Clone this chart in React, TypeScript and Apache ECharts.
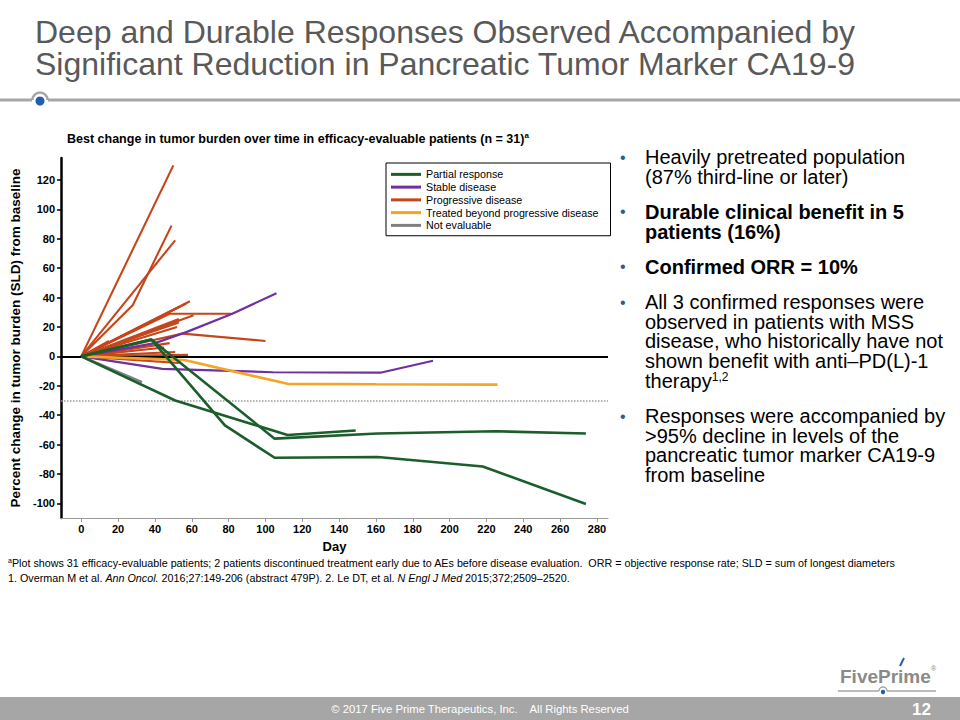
import React, { useEffect, useRef } from "react";
import * as echarts from "echarts";

// ---------- DATA ----------
const categories = [
  "Partial response",
  "Stable disease",
  "Progressive disease",
  "Treated beyond progressive disease",
  "Not evaluable",
];

const xTicks = [0, 20, 40, 60, 80, 100, 120, 140, 160, 180, 200, 220, 240, 260, 280];
const yTicks = [-100, -80, -60, -40, -20, 0, 20, 40, 60, 80, 100, 120];

// [day, % change] per patient
const partialResponse = [
  [[0, 0], [51, -30], [112, -53.5], [149, -50.5]],
  [[0, 0], [38, 11.5], [105, -56], [161, -52.5], [225, -51], [274, -52.5]],
  [[0, 0], [38, 11.5], [78, -47], [105, -69], [161, -68.5], [218, -75], [274, -100.5]],
];

const stableDisease = [
  [[0, 0], [40, 9], [57, 16.5], [82, 29], [106, 43]],
  [[0, 0], [44, -8.5], [104, -10.8], [163, -11], [191, -3]],
];

const progressiveDisease = [
  [[0, 0], [50, 130]],
  [[0, 0], [28, 35], [49, 89]],
  [[0, 0], [51, 79]],
  [[0, 0], [59, 37.5]],
  [[0, 0], [57, 36]],
  [[0, 0], [53, 33.5]],
  [[0, 0], [48, 29], [82, 29]],
  [[0, 0], [61, 28]],
  [[0, 0], [53, 25.5]],
  [[0, 0], [53, 23]],
  [[0, 0], [52, 20]],
  [[0, 0], [55, 15.5], [100, 10.5]],
  [[0, 0], [15, 10.5]],
  [[0, 0], [48, 9]],
  [[0, 0], [45, 6]],
  [[0, 0], [51, 3]],
  [[0, 0], [58, 1]],
  [[0, 0], [53, -4.5]],
];

const treatedBeyondPD = [
  [[0, 0], [56, -2.5], [112, -18.7], [160, -19], [226, -19.2]],
];

const notEvaluable = [
  [[0, 0], [33, -17.5]],
];

const referenceLines = [0, -30];

const titleLines = [
  "Deep and Durable Responses Observed Accompanied by",
  "Significant Reduction in Pancreatic Tumor Marker CA19-9",
];

const bulletParagraphs = [
  { bold: false, lines: ["Heavily pretreated population", "(87% third-line or later)"] },
  { bold: true, lines: ["Durable clinical benefit in 5", "patients (16%)"] },
  { bold: true, lines: ["Confirmed ORR = 10%"] },
  {
    bold: false,
    lines: [
      "All 3 confirmed responses were",
      "observed in patients with MSS",
      "disease, who historically have not",
      "shown benefit with anti\u2013PD(L)-1",
      "therapy{s|1,2}",
    ],
  },
  {
    bold: false,
    lines: [
      "Responses were accompanied by",
      ">95% decline in levels of the",
      "pancreatic tumor marker CA19-9",
      "from baseline",
    ],
  },
];

// ---------- STYLES ----------
const FONT = "'Liberation Sans', Arial, Helvetica, sans-serif";
const seriesStyle: Record<string, { color: string; width: number; z: number }> = {
  "Partial response": { color: "#1B5E2C", width: 2.6, z: 6 },
  "Stable disease": { color: "#7030A0", width: 2.2, z: 4 },
  "Progressive disease": { color: "#C4461A", width: 2.1, z: 3 },
  "Treated beyond progressive disease": { color: "#F5A425", width: 2.6, z: 5 },
  "Not evaluable": { color: "#7F7F7F", width: 2.6, z: 5 },
};

export default function App() {
  const ref = useRef<HTMLDivElement>(null);

  useEffect(() => {
    if (!ref.current) return;
    const chart = echarts.init(ref.current, undefined, { renderer: "svg" });

    const groups: [string, number[][][]][] = [
      [categories[2], progressiveDisease],
      [categories[1], stableDisease],
      [categories[3], treatedBeyondPD],
      [categories[4], notEvaluable],
      [categories[0], partialResponse],
    ];

    const series: any[] = [];
    groups.forEach(([name, lines]) => {
      const st = seriesStyle[name];
      lines.forEach((pts) => {
        series.push({
          type: "line",
          name,
          data: pts,
          showSymbol: false,
          symbol: "none",
          silent: true,
          z: st.z,
          lineStyle: { color: st.color, width: st.width },
          itemStyle: { color: st.color },
        });
      });
    });

    series.push({
      type: "line",
      name: "ref",
      data: [],
      silent: true,
      z: 2,
      markLine: {
        symbol: "none",
        silent: true,
        label: { show: false },
        data: [
          { yAxis: referenceLines[0], lineStyle: { color: "#000", width: 2, type: "solid" } },
          { yAxis: referenceLines[1], lineStyle: { color: "#9a9a9a", width: 1.5, type: "dotted" } },
        ],
      },
    });

    const graphics: any[] = [];

    // Slide title (one multi-line text)
    graphics.push({
      type: "text",
      x: 35,
      y: 16,
      style: {
        text: titleLines.join("\n"),
        fontSize: 32,
        lineHeight: 32,
        fontFamily: FONT,
        fill: "#595959",
        verticalAlign: "top",
      },
    });

    // Divider with dot
    graphics.push(
      { type: "line", shape: { x1: 0, y1: 100, x2: 32, y2: 100 }, style: { stroke: "#A6A6A6", lineWidth: 3 } },
      { type: "line", shape: { x1: 48, y1: 100, x2: 960, y2: 100 }, style: { stroke: "#A6A6A6", lineWidth: 3 } },
      {
        type: "arc",
        shape: { cx: 40, cy: 100, r: 7.5, startAngle: Math.PI, endAngle: Math.PI * 2 },
        style: { stroke: "#A6A6A6", lineWidth: 2.5, fill: null },
      },
      { type: "circle", shape: { cx: 40, cy: 101, r: 4.5 }, style: { fill: "#1F5FAD" } }
    );

    // Bullets: one multi-line text per paragraph
    const LH = 19.7;
    let y = 157;
    bulletParagraphs.forEach((p, pi) => {
      if (pi > 0) y += 15.5;
      graphics.push({
        type: "text",
        x: 620,
        y: y,
        style: { text: "\u2022", fontSize: 16, lineHeight: 16, fontFamily: FONT, fill: "#2E5C8A", verticalAlign: "middle" },
      });
      const weight = p.bold ? "bold" : "normal";
      graphics.push({
        type: "text",
        x: 645,
        y: y - LH / 2,
        style: {
          text: p.lines.map((l) => (l.includes("{") ? l.replace(/^([^{]+)/, "{n|$1}") : `{n|${l}}`)).join("\n"),
          verticalAlign: "top",
          rich: {
            n: { fontSize: 20, fontWeight: weight, fontFamily: FONT, fill: "#000", lineHeight: LH },
            s: { fontSize: 12, fontFamily: FONT, fill: "#000", verticalAlign: "top", lineHeight: LH },
          },
        },
      });
      y += LH * p.lines.length;
    });

    // Footnotes
    graphics.push(
      {
        type: "text",
        x: 8,
        y: 563,
        style: {
          text:
            "{s|a}{n|Plot shows 31 efficacy-evaluable patients; 2 patients discontinued treatment early due to AEs before disease evaluation.  ORR = objective response rate; SLD = sum of longest diameters}",
          verticalAlign: "middle",
          rich: {
            n: { fontSize: 10.75, fontFamily: FONT, fill: "#000", lineHeight: 13 },
            s: { fontSize: 7, fontFamily: FONT, fill: "#000", verticalAlign: "top", lineHeight: 13 },
          },
        },
      },
      {
        type: "text",
        x: 8,
        y: 578,
        style: {
          text:
            "{n|1. Overman M et al. }{i|Ann Oncol.}{n| 2016;27:149-206 (abstract 479P). 2. Le DT, et al. }{i|N Engl J Med}{n| 2015;372;2509\u20132520.}",
          verticalAlign: "middle",
          rich: {
            n: { fontSize: 10.75, fontFamily: FONT, fill: "#000", lineHeight: 13 },
            i: { fontSize: 10.75, fontFamily: FONT, fill: "#000", fontStyle: "italic", lineHeight: 13 },
          },
        },
      }
    );

    // Logo
    graphics.push(
      {
        type: "text",
        x: 840,
        y: 676,
        style: {
          text: "FivePrime",
          fontSize: 19,
          fontWeight: "bold",
          fontFamily: FONT,
          fill: "#8A8A8A",
          verticalAlign: "middle",
        },
      },
      {
        type: "text",
        x: 931,
        y: 668,
        style: { text: "\u00AE", fontSize: 7, fontFamily: FONT, fill: "#7F7F7F", verticalAlign: "middle" },
      },
      { type: "line", shape: { x1: 900, y1: 666, x2: 904, y2: 658 }, style: { stroke: "#1F5FAD", lineWidth: 2 } },
      { type: "line", shape: { x1: 838, y1: 691, x2: 879, y2: 691 }, style: { stroke: "#A6A6A6", lineWidth: 1.5 } },
      { type: "line", shape: { x1: 887, y1: 691, x2: 936, y2: 691 }, style: { stroke: "#A6A6A6", lineWidth: 1.5 } },
      {
        type: "arc",
        shape: { cx: 883, cy: 691, r: 4, startAngle: Math.PI, endAngle: Math.PI * 2 },
        style: { stroke: "#A6A6A6", lineWidth: 1.5, fill: null },
      },
      { type: "circle", shape: { cx: 883, cy: 692, r: 2.2 }, style: { fill: "#1F5FAD" } }
    );

    // Footer
    graphics.push(
      { type: "rect", shape: { x: 0, y: 697, width: 960, height: 23 }, style: { fill: "#A6A6A6" } },
      {
        type: "text",
        x: 480,
        y: 709,
        style: {
          text: "\u00A9 2017 Five Prime Therapeutics, Inc.    All Rights Reserved",
          fontSize: 11.3,
          fontFamily: FONT,
          fill: "#fff",
          align: "center",
          verticalAlign: "middle",
        },
      },
      {
        type: "text",
        x: 931,
        y: 709,
        style: {
          text: "12",
          fontSize: 17,
          fontWeight: "bold",
          fontFamily: FONT,
          fill: "#fff",
          align: "right",
          verticalAlign: "middle",
        },
      }
    );

    chart.setOption({
      animation: false,
      backgroundColor: "#fff",
      title: {
        text: "{b|Best change in tumor burden over time in efficacy-evaluable patients (n = 31)}{s|a}",
        left: 67,
        top: 131,
        padding: 0,
        textStyle: {
          rich: {
            b: { fontSize: 12.5, fontWeight: "bold", fontFamily: FONT, color: "#000", lineHeight: 16 },
            s: { fontSize: 8, fontWeight: "bold", fontFamily: FONT, color: "#000", verticalAlign: "top", lineHeight: 16 },
          },
        },
      },
      legend: {
        data: categories,
        orient: "vertical",
        left: 386,
        top: 163,
        icon: "rect",
        itemWidth: 30,
        itemHeight: 3,
        itemGap: 0,
        padding: [5, 12, 4, 5],
        borderColor: "#000",
        borderWidth: 1,
        selectedMode: false,
        textStyle: { fontSize: 10.7, fontFamily: FONT, color: "#000", lineHeight: 12.75 },
      },
      grid: { left: 61, right: 352, top: 158, bottom: 202, containLabel: false },
      xAxis: {
        type: "value",
        min: -11,
        max: 286,
        name: "Day",
        nameLocation: "middle",
        nameGap: 22,
        nameTextStyle: { fontSize: 13, fontWeight: "bold", fontFamily: FONT, color: "#000" },
        axisLine: { show: true, onZero: false, lineStyle: { color: "#9a9a9a", width: 1 } },
        axisTick: { show: true, customValues: xTicks, length: 4, lineStyle: { color: "#9a9a9a", width: 1 } },
        axisLabel: { customValues: xTicks, fontSize: 11, fontWeight: "bold", fontFamily: FONT, color: "#000", margin: 5 },
        splitLine: { show: false },
      },
      yAxis: {
        type: "value",
        min: -110,
        max: 135,
        name: "Percent change in tumor burden (SLD) from baseline",
        nameLocation: "middle",
        nameGap: 37,
        nameTextStyle: { fontSize: 13.5, fontWeight: "bold", fontFamily: FONT, color: "#000" },
        axisLine: { show: true, onZero: false, lineStyle: { color: "#000", width: 2.5 } },
        axisTick: { show: true, customValues: yTicks, length: 4, lineStyle: { color: "#000", width: 1.5 } },
        axisLabel: { customValues: yTicks, fontSize: 11, fontWeight: "bold", fontFamily: FONT, color: "#000", margin: 6 },
        splitLine: { show: false },
      },
      series,
      graphic: { elements: graphics },
    });

    return () => chart.dispose();
  }, []);

  return (
    <div
      ref={ref}
      style={{ position: "fixed", left: 0, top: 0, width: 960, height: 720, background: "#fff" }}
    />
  );
}
